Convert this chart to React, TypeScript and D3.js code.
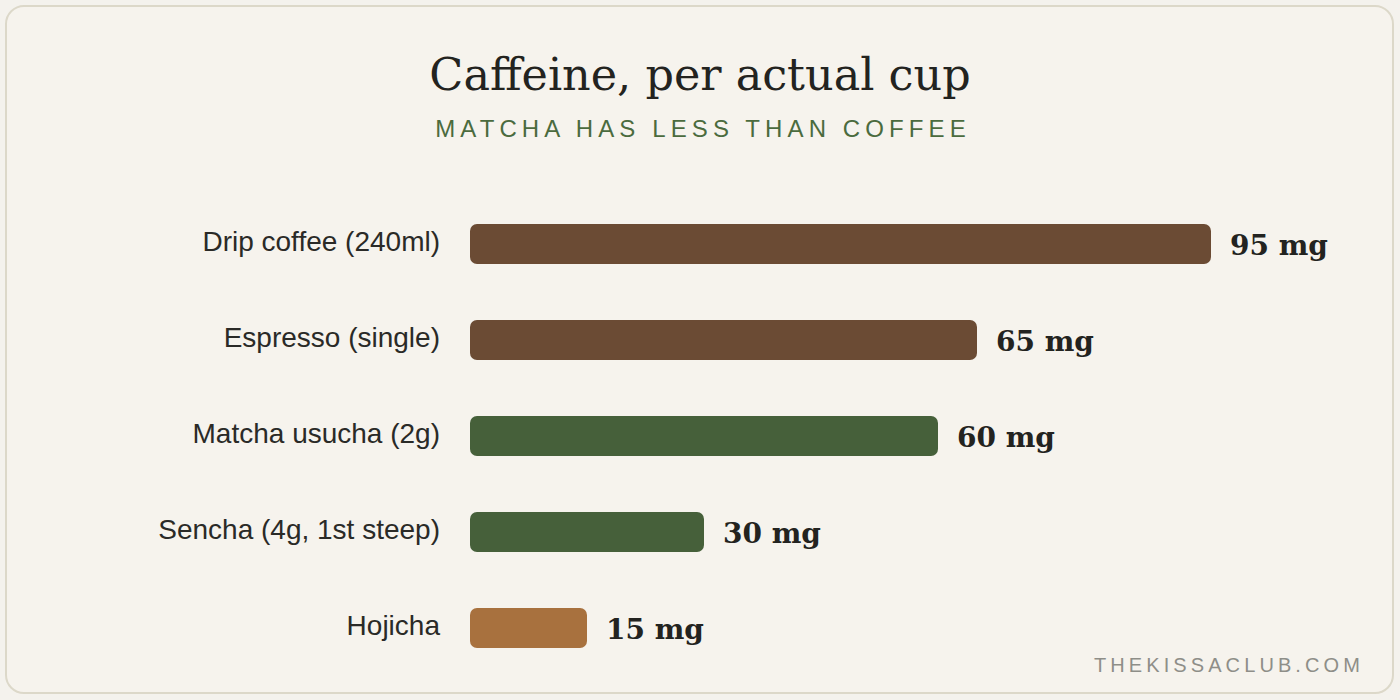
import React from "react";
import * as d3 from "d3";

const categories = [
  "Drip coffee (240ml)",
  "Espresso (single)",
  "Matcha usucha (2g)",
  "Sencha (4g, 1st steep)",
  "Hojicha",
];
const caffeineMg = [95, 65, 60, 30, 15];
const barColors = ["#6b4b34", "#6b4b34", "#46603a", "#46603a", "#a8713e"];
const valueUnit = "mg";
const title = "Caffeine, per actual cup";
const subtitle = "MATCHA HAS LESS THAN COFFEE";
const footer = "THEKISSACLUB.COM";

const W = 1400;
const H = 700;

export default function App() {
  const x = d3.scaleLinear().domain([0, 95]).range([470, 1211]);
  const y = d3
    .scaleBand<string>()
    .domain(categories)
    .range([196, 676])
    .paddingInner(0.5833)
    .paddingOuter(0.2917);
  const bw = y.bandwidth();

  return (
    <svg
      width={W}
      height={H}
      viewBox={`0 0 ${W} ${H}`}
      style={{ position: "absolute", left: 0, top: 0, display: "block" }}
    >
      <rect x={0} y={0} width={W} height={H} fill="#f4f2ed" />
      <rect
        x={6}
        y={6}
        width={1387}
        height={687}
        rx={18}
        ry={18}
        fill="#f6f3ed"
        stroke="#dcd8c9"
        strokeWidth={2}
      />
      <text
        x={700}
        y={90}
        textAnchor="middle"
        fontFamily="Georgia, 'DejaVu Serif', serif"
        fontSize={44.5}
        fill="#232320"
      >
        {title}
      </text>
      <text
        x={703}
        y={137}
        textAnchor="middle"
        fontFamily="'Liberation Sans', Arial, Helvetica, sans-serif"
        fontSize={24}
        letterSpacing={5.1}
        fill="#4b6b3e"
      >
        {subtitle}
      </text>
      {categories.map((c, i) => {
        const yy = y(c) as number;
        const cy = yy + bw / 2;
        return (
          <g key={c}>
            <text
              x={440}
              y={cy + 7}
              textAnchor="end"
              fontFamily="'Liberation Sans', Arial, Helvetica, sans-serif"
              fontSize={28}
              fill="#2a2a27"
            >
              {c}
            </text>
            <rect
              x={x(0)}
              y={yy}
              width={x(caffeineMg[i]) - x(0)}
              height={bw}
              rx={7}
              ry={7}
              fill={barColors[i]}
            />
            <text
              x={x(caffeineMg[i]) + 19}
              y={cy + 11}
              fontFamily="Georgia, 'DejaVu Serif', serif"
              fontWeight="bold"
              fontSize={28}
              fill="#232320"
            >
              {`${caffeineMg[i]} ${valueUnit}`}
            </text>
          </g>
        );
      })}
      <text
        x={1364}
        y={672}
        textAnchor="end"
        fontFamily="'Liberation Sans', Arial, Helvetica, sans-serif"
        fontSize={20}
        letterSpacing={4.1}
        fill="#8e8e88"
      >
        {footer}
      </text>
    </svg>
  );
}
